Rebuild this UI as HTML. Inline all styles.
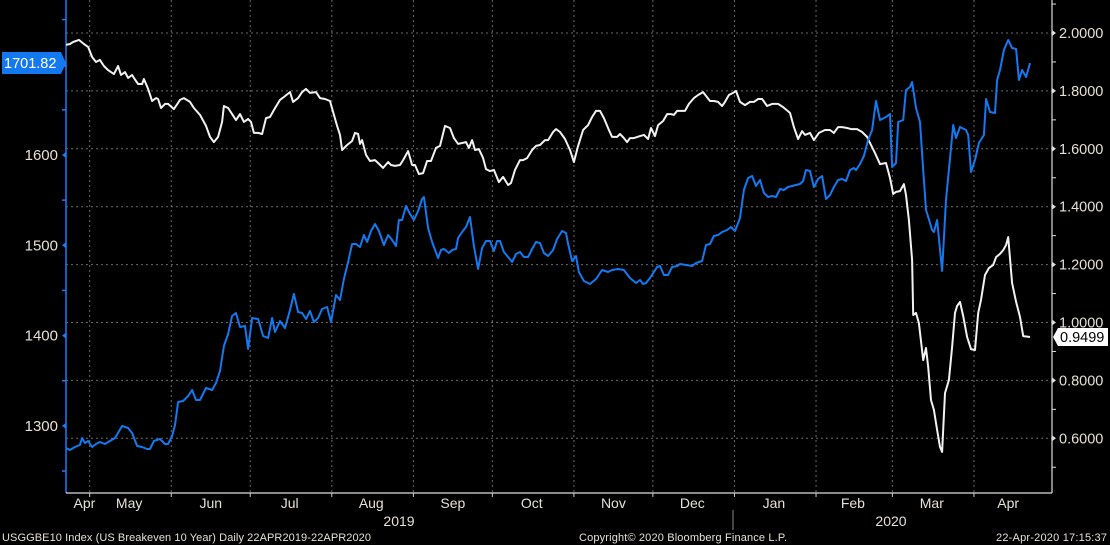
<!DOCTYPE html>
<html><head><meta charset="utf-8">
<style>
html,body{margin:0;padding:0;background:#000;}
svg{display:block;font-family:"Liberation Sans",sans-serif;}
</style></head>
<body>
<svg id="chart" width="1110" height="545" viewBox="0 0 1110 545" xmlns="http://www.w3.org/2000/svg">
<rect x="0" y="0" width="1110" height="545" fill="#000"/>
<g id="grid"></g>
<g id="axes"></g>
<g id="series"></g>
<g id="labels"></g>
</svg>
<script>
// ---- data ----
const goldDays=[0,1.5,3.4,5.3,6.1,7.2,8.4,9.9,11.4,12.9,14.8,16.7,18.6,21.3,23.6,25.1,27,28.9,30.8,31.9,33.4,35.7,37.6,38.8,40.3,41.4,42.6,44.5,46.4,47.9,49.4,50.9,53.2,55.5,57,58.5,60,61.6,63.1,64.6,66.1,68,69.2,70.7,73,74.9,76.8,78.3,79.4,81.3,83.2,85.1,86.6,88.2,89.7,91.2,92.7,94.2,95.8,97.3,99.2,100.7,102.6,104.1,105.6,107.2,108.7,110.2,111.7,113.2,114.4,115.9,117.4,118.9,120.8,122.4,123.9,125.4,126.5,127.7,129.2,130.7,132.2,133.8,135.3,136,137.6,139.1,141.4,142.5,143.6,145.5,146.7,148.2,149,150.5,152,153.5,155,156.6,158.1,159.6,161.1,162.6,163.8,164.9,166.4,168,169.5,171,172.5,174,175.6,177.1,178.6,180.1,181.6,183.2,185.1,186.6,188.5,190,190.8,192.3,193.8,194.9,196.8,199.1,201.4,203.7,206,207.5,209.8,212,214.3,216.6,218.1,219.3,220.4,221.9,223.4,224.6,225.7,227.2,228.8,230.3,232.2,233.3,235.6,237.9,239.4,241.7,243.2,244.7,246.2,247.8,249.3,251.2,252.7,254.2,256.1,257.6,259.2,260.7,262.2,263.7,265.2,266.8,268.3,269.8,271.3,272.8,274.4,275.9,277.4,278.9,280.1,281.2,282.7,284.2,285.8,287.3,288.8,290.3,291.8,293.4,294.9,296.4,297.9,299.4,300.2,301.7,303.2,304.8,306.3,307.8,309.3,311.6,313.1,313.9,315.4,316.2,318.1,319.2,320.7,321.5,323,324.5,325.7,326.8,327.6,329.1,329.8,331,332.9,334.4,337.1,338.2,339.7,342,342.8,343.9,345.4,346.9,348.8,349.6,351.1,353,353.8,354.9,356.4,358,359.5,361,362.1,363.3,364.8,366.3];
const goldValues=[1275.5,1273.3,1276.6,1278.9,1286.6,1281.1,1283.3,1276.6,1280,1282.2,1280,1283.3,1286.6,1299.9,1297.7,1292.1,1277.7,1276.6,1274.4,1274.4,1283.3,1285.5,1280,1280,1288.8,1301,1326.5,1327.6,1333.1,1339.8,1328.7,1328.7,1342,1339.8,1347.5,1360.8,1388.5,1401.8,1421.7,1425,1409.5,1410.6,1385.2,1419.5,1418.4,1399.6,1397.3,1419.5,1404,1416.2,1408.4,1428.4,1446.1,1426.1,1425,1418.4,1427.2,1415.1,1419.5,1429.5,1431.7,1415.1,1445,1439.4,1462.7,1481.5,1501.4,1501.4,1498.1,1511.4,1503.7,1515.8,1523.6,1515.8,1500.3,1511.4,1505.9,1499.2,1528,1528,1543.5,1534.7,1528,1538,1551.3,1553.5,1519.2,1503.7,1485.9,1494.8,1495.9,1491.5,1494.8,1495.9,1508.1,1514.7,1520.3,1531.3,1499.2,1473.8,1497,1504.8,1504.8,1493.7,1504.8,1504.8,1492.6,1487,1481.5,1490.4,1492.6,1487,1487,1495.9,1503.7,1502.6,1491.5,1488.2,1494.8,1507,1515.8,1513.6,1501.4,1482.6,1488.2,1470.4,1460.5,1457.1,1462.7,1472.6,1470.4,1472.6,1473.8,1472.6,1463.8,1458.3,1461.6,1457.1,1458.3,1463.8,1470.4,1476,1477.1,1467.1,1467.1,1476,1477.1,1479.3,1478.2,1477.1,1480.4,1482.6,1500.3,1501.4,1510.3,1511.4,1514.7,1516.9,1520.3,1515.8,1530.2,1561.2,1574.5,1576.7,1565.7,1572.3,1557.9,1553.5,1554.6,1553.5,1562.3,1561.2,1564.6,1565.7,1566.8,1567.9,1571.2,1583.4,1582.3,1564.6,1573.4,1576.7,1551.3,1555.7,1564.6,1572.3,1573.4,1571.2,1583.4,1585.6,1583.4,1590,1598.9,1616.6,1627.7,1659.8,1638.8,1642.1,1645.4,1586.7,1591.1,1636.5,1638.8,1672,1675.3,1680.8,1652,1636.5,1583.4,1539.1,1531.3,1516.9,1514.7,1528,1471.5,1550.2,1633.2,1618.8,1631,1627.7,1622.1,1581.2,1594.5,1613.3,1622.1,1662,1647.6,1646.5,1683.1,1694.1,1716.3,1727.4,1718.5,1717.4,1683.1,1694.1,1686.4,1701.82];
const beDays=[0,1.5,2.7,4.9,6.8,8.4,9.9,11.4,12.9,14.4,16,18.2,19.8,20.9,22.4,23.6,25.1,25.8,27.4,28.9,29.6,31.2,32.7,34.2,35,36.1,37.6,38.8,41,43.3,44.8,47.1,48.6,50.9,53.2,54.7,56.2,57.8,59.3,60,61.6,63.1,64.6,66.1,67.6,69.2,70.3,71.4,73,74.5,76,77.5,79,81.3,82.8,85.1,86.3,88.2,89.7,91.2,92.7,95,96.5,98.4,100.3,101.5,103,104.1,104.9,106.8,108.7,109.8,111,111.7,112.5,114,115.5,117.4,118.6,120.5,122.4,123.5,125,126.9,128.1,130,131.5,132.6,134.1,135.7,137.2,138.7,140.6,142.1,144,145.9,147.4,149,150.5,152,153.1,154.3,155.4,156.9,158.5,159.6,161.1,162.6,164.5,166.1,168,169.1,170.6,172.5,173.7,175.2,177.1,178.6,180.1,182,183.2,185.1,186.2,187.7,189.6,191.5,193,194.6,196.5,198.4,199.9,201.4,202.9,204.4,206.3,207.5,209.4,210.5,212,213.2,214.3,215.8,218.1,219.6,221.2,222.3,223.8,225,226.9,228.4,229.9,231,232.2,233.7,235.2,236.7,238.6,240.2,242.1,244.7,246.2,247.8,249.3,250.4,251.9,253.5,254.6,256.1,258,259.9,261.4,263,264.5,266.4,268.3,270.6,272.5,275.1,276.6,278.2,279.7,280.8,282.7,284.2,286.1,288.4,290.3,291.8,293.4,294.9,296.8,298.3,300.6,302.5,304.4,305.5,307.4,309.3,311.6,312.4,313.1,314.3,315.4,316.9,318.4,319.2,320.3,321.5,321.9,323,324.1,325.7,326.8,327.6,328.7,329.8,331,332.1,332.9,334,335.5,336.7,337.8,338.6,339.7,340.9,342.4,343.9,345.4,346.6,347.7,349.2,350.7,352.3,353.4,354.9,356.1,357.2,358,359.5,361,362.5,363.7,366.3];
const beValues=[1.959,1.962,1.969,1.976,1.962,1.952,1.917,1.900,1.907,1.886,1.872,1.858,1.886,1.855,1.865,1.845,1.855,1.845,1.824,1.824,1.841,1.807,1.765,1.775,1.772,1.741,1.755,1.755,1.737,1.769,1.775,1.762,1.741,1.717,1.679,1.641,1.623,1.641,1.693,1.748,1.741,1.720,1.699,1.720,1.693,1.703,1.693,1.655,1.655,1.651,1.706,1.710,1.734,1.769,1.779,1.796,1.762,1.775,1.796,1.807,1.793,1.796,1.775,1.772,1.765,1.727,1.679,1.648,1.596,1.613,1.627,1.655,1.651,1.617,1.630,1.579,1.558,1.561,1.551,1.534,1.554,1.544,1.541,1.544,1.561,1.592,1.544,1.544,1.513,1.516,1.558,1.558,1.603,1.610,1.679,1.672,1.637,1.617,1.620,1.623,1.603,1.630,1.596,1.599,1.568,1.530,1.523,1.527,1.485,1.503,1.475,1.482,1.527,1.561,1.561,1.568,1.596,1.610,1.613,1.630,1.630,1.658,1.668,1.658,1.634,1.596,1.554,1.610,1.665,1.682,1.710,1.731,1.731,1.706,1.665,1.641,1.641,1.651,1.637,1.623,1.637,1.637,1.644,1.648,1.634,1.672,1.644,1.682,1.696,1.720,1.720,1.717,1.731,1.731,1.731,1.755,1.775,1.786,1.796,1.765,1.765,1.762,1.748,1.762,1.786,1.793,1.800,1.762,1.751,1.762,1.762,1.772,1.772,1.748,1.755,1.755,1.744,1.724,1.675,1.634,1.661,1.648,1.655,1.630,1.655,1.665,1.665,1.655,1.675,1.675,1.672,1.668,1.668,1.658,1.641,1.620,1.585,1.547,1.551,1.523,1.499,1.444,1.451,1.454,1.478,1.440,1.354,1.216,1.026,1.033,0.998,0.870,0.912,0.846,0.732,0.698,0.629,0.570,0.553,0.756,0.801,0.915,1.033,1.057,1.071,1.022,0.950,0.908,0.905,1.033,1.078,1.164,1.188,1.199,1.226,1.237,1.250,1.268,1.295,1.136,1.071,1.019,0.953,0.9499];
const leftTicks=[1300,1400,1500,1600,1700];
const leftMinor=[1250,1350,1450,1550,1650,1750];
const rightTicks=[0.6,0.8,1.0,1.2,1.4,1.6,1.8,2.0];
const rightMinor=[0.5,0.7,0.9,1.1,1.3,1.5,1.7,1.9,2.1];
const monthStarts=[9,40,70,101,132,162,193,223,254,285,314,345];
const monthLabels=["Apr","May","Jun","Jul","Aug","Sep","Oct","Nov","Dec","Jan","Feb","Mar","Apr"];
const monthLabelDays=[7,24,55,85,116,147,177,208,238,269,299,329,358];

// ---- scales ----
const X0=66,X1=1030,D1=366.3,PL=66,PR=1052,PB=493;
const xs=d=>X0+(d/D1)*(X1-X0);
const yL=v=>155-(v-1600)*0.903;
const yR=v=>33+(2.0-v)*289.5;
const NS="http://www.w3.org/2000/svg";
function mk(tag,attrs,parent){const e=document.createElementNS(NS,tag);for(const k in attrs)e.setAttribute(k,attrs[k]);parent.appendChild(e);return e;}
const grid=document.getElementById('grid'),axes=document.getElementById('axes'),series=document.getElementById('series'),labels=document.getElementById('labels');

// grid
rightTicks.forEach(v=>{const l=mk('line',{x1:PL,x2:PR,y1:yR(v),y2:yR(v),stroke:'#6a6a6a','stroke-width':1,'stroke-dasharray':'2,3'},grid);

});
monthStarts.forEach(d=>{const l=mk('line',{x1:xs(d),x2:xs(d),y1:0,y2:PB,stroke:'#6a6a6a','stroke-width':1,'stroke-dasharray':'2,3'},grid);


const t=mk('line',{x1:xs(d),x2:xs(d),y1:PB,y2:PB+4,stroke:'#ccc','stroke-width':1},axes);

});

// axes
let a=mk('line',{x1:PL,x2:PL,y1:0,y2:PB,stroke:'#1a7cf5','stroke-width':1.5},axes);


a=mk('line',{x1:PR,x2:PR,y1:0,y2:PB,stroke:'#ddd','stroke-width':1.2},axes);


a=mk('line',{x1:PL,x2:PR,y1:PB,y2:PB,stroke:'#ddd','stroke-width':1.2},axes);


a=mk('line',{x1:733,x2:733,y1:510,y2:530,stroke:'#888','stroke-width':1},axes);



leftTicks.forEach(v=>{const y=yL(v);
const t=mk('path',{d:`M${PL} ${y-3} L${PL-4} ${y} L${PL} ${y+3} Z`,fill:'#1a7cf5'},axes);


if(v!==1700){const tx=mk('text',{x:58,y:y+5,'text-anchor':'end','font-size':15,fill:'#e6e0d6'},labels);tx.textContent=v;

}});
leftMinor.forEach(v=>{const y=yL(v);if(y<0||y>PB)return;const t=mk('line',{x1:PL-4,x2:PL,y1:y,y2:y,stroke:'#1a7cf5','stroke-width':1.5},axes);

});
rightTicks.forEach(v=>{const y=yR(v);
const t=mk('path',{d:`M${PR} ${y-3} L${PR+4} ${y} L${PR} ${y+3} Z`,fill:'#ddd'},axes);


const tx=mk('text',{x:1059,y:y+5,'font-size':14.5,fill:'#e6e0d6'},labels);tx.textContent=v.toFixed(4);

});
rightMinor.forEach(v=>{const y=yR(v);if(y<0||y>PB)return;const t=mk('line',{x1:PR,x2:PR+4,y1:y,y2:y,stroke:'#ddd','stroke-width':1},axes);

});

monthLabels.forEach((m,i)=>{const tx=mk('text',{x:xs(monthLabelDays[i]),y:508,'text-anchor':'middle','font-size':14,fill:'#e6e0d6'},labels);tx.textContent=m;

});

// series
function line(days,vals,ys,color,name){const d=days.map((dd,i)=>(i?'L':'M')+xs(dd).toFixed(1)+' '+ys(vals[i]).toFixed(1)).join(' ');
const p=mk('path',{d:d,fill:'none',stroke:color,'stroke-width':2,'stroke-linejoin':'round'},series);

}
line(beDays,beValues,yR,'#f2f2f2','breakeven-line');
line(goldDays,goldValues,yL,'#1479f0','gold-line');

// last value badges
const gy=yL(goldValues[goldValues.length-1]);
let b=mk('path',{d:`M2 ${gy-11} L61 ${gy-11} L66 ${gy} L61 ${gy+11} L2 ${gy+11} Z`,fill:'#1479f0'},labels);


let bt=mk('text',{x:4,y:gy+5,'font-size':14.5,fill:'#fff'},labels);bt.textContent=goldValues[goldValues.length-1].toFixed(2);


const by=yR(beValues[beValues.length-1]);
b=mk('path',{d:`M1053 ${by} L1058 ${by-9} L1108 ${by-9} L1108 ${by+9} L1058 ${by+9} Z`,fill:'#fff'},labels);


bt=mk('text',{x:1060,y:by+5,'font-size':14.5,fill:'#000'},labels);bt.textContent=beValues[beValues.length-1].toFixed(4);


</script>
<svg style="position:absolute;left:0;top:0" width="1110" height="545">
<text x="399" y="526" text-anchor="middle" font-size="14" fill="#e6e0d6" font-family="Liberation Sans, sans-serif">2019</text>
<text x="891" y="526" text-anchor="middle" font-size="14" fill="#e6e0d6" font-family="Liberation Sans, sans-serif">2020</text>
<text x="2" y="541" font-size="11" fill="#e6e0d6" textLength="369" font-family="Liberation Sans, sans-serif">USGGBE10 Index (US Breakeven 10 Year)  Daily 22APR2019-22APR2020</text>
<text x="579" y="541" font-size="11" fill="#e6e0d6" textLength="208" font-family="Liberation Sans, sans-serif">Copyright© 2020 Bloomberg Finance L.P.</text>
<text x="996" y="541" font-size="11" fill="#e6e0d6" textLength="111" font-family="Liberation Sans, sans-serif">22-Apr-2020 17:15:37</text>
</svg>
</body></html>
